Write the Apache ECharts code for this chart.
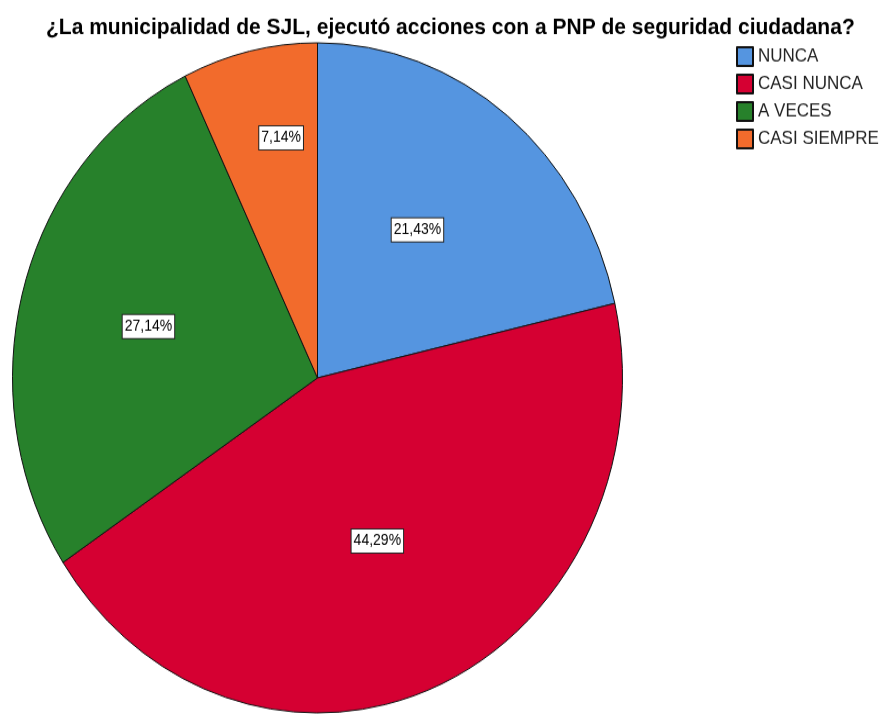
<!DOCTYPE html>
<html>
    <head>
        <meta charset="utf-8">
        <title>pie_sjl</title>
        <script src="https://cdn.jsdelivr.net/npm/echarts@6/dist/echarts.min.js"></script>
        <style>
            html, body { margin: 0; background: #fff; height: 714px; overflow: hidden; }
            /* the source picture is stretched vertically, so the chart is too */
            #main { width: 881px; height: 714px; transform: scaleY(1.0985); transform-origin: 0 0; }
        </style>
    </head>
    <body>
        <div id="main"></div>
        <script>
            var title_text = '¿La municipalidad de SJL, ejecutó acciones con a PNP de seguridad ciudadana?';
            var categories = ['NUNCA', 'CASI NUNCA', 'A VECES', 'CASI SIEMPRE'];
            var counts = [15, 31, 19, 5];
            var colors = ['#5595e0', '#d50032', '#27812b', '#f26b2c'];

            var total = counts.reduce(function (a, b) { return a + b; }, 0);
            var data = categories.map(function (name, i) {
                return { name: name, value: counts[i], itemStyle: { color: colors[i] } };
            });

            var pie_center = [317.5, 344];
            var pie_radius = 305;
            // where spss puts each label: share of radius, and a small turn (deg) off the mid angle
            var label_dist = [0.55, 0.525, 0.575, 0.726];
            var label_turn = [-2, 1.2, 0, 3.4];

            function label_pos(idx) {
                var before = 0;
                for (var i = 0; i < idx; i++) before += counts[i];
                var mid = (before + counts[idx] / 2) / total * 2 * Math.PI + label_turn[idx] * Math.PI / 180;
                var r = label_dist[idx] * pie_radius;
                return {
                    x: pie_center[0] + r * Math.sin(mid),
                    y: pie_center[1] - r * Math.cos(mid)
                };
            }

            var myChart = echarts.init(document.getElementById('main'));
            var option = {
                animation: false,
                title: {
                    text: title_text,
                    left: 41,
                    top: 10,
                    textStyle: {
                        fontFamily: 'Liberation Sans, Arial, sans-serif',
                        fontSize: 21,
                        fontWeight: 'bold',
                        color: '#000'
                    }
                },
                legend: {
                    orient: 'vertical',
                    left: 731,
                    top: 37,
                    itemWidth: 16,
                    itemHeight: 17,
                    itemGap: 6,
                    icon: 'rect',
                    data: categories,
                    textStyle: {
                        fontFamily: 'Liberation Sans, Arial, sans-serif',
                        fontSize: 17,
                        color: '#222'
                    }
                },
                series: [
                    {
                        type: 'pie',
                        center: pie_center,
                        radius: pie_radius,
                        startAngle: 90,
                        clockwise: true,
                        avoidLabelOverlap: false,
                        itemStyle: { borderColor: '#111', borderWidth: 1 },
                        label: {
                            position: 'inside',
                            formatter: function (p) {
                                return (p.value / total * 100).toFixed(2).replace('.', ',') + '%';
                            },
                            fontFamily: 'Liberation Sans, Arial, sans-serif',
                            fontSize: 14,
                            color: '#000',
                            backgroundColor: '#fff',
                            borderColor: '#222',
                            borderWidth: 1,
                            padding: [4, 2, 3, 2]
                        },
                        labelLayout: function (params) {
                            return label_pos(params.dataIndex);
                        },
                        labelLine: { show: false },
                        emphasis: { disabled: true },
                        data: data
                    }
                ]
            };
            myChart.setOption(option);
        </script>
    </body>
</html>
